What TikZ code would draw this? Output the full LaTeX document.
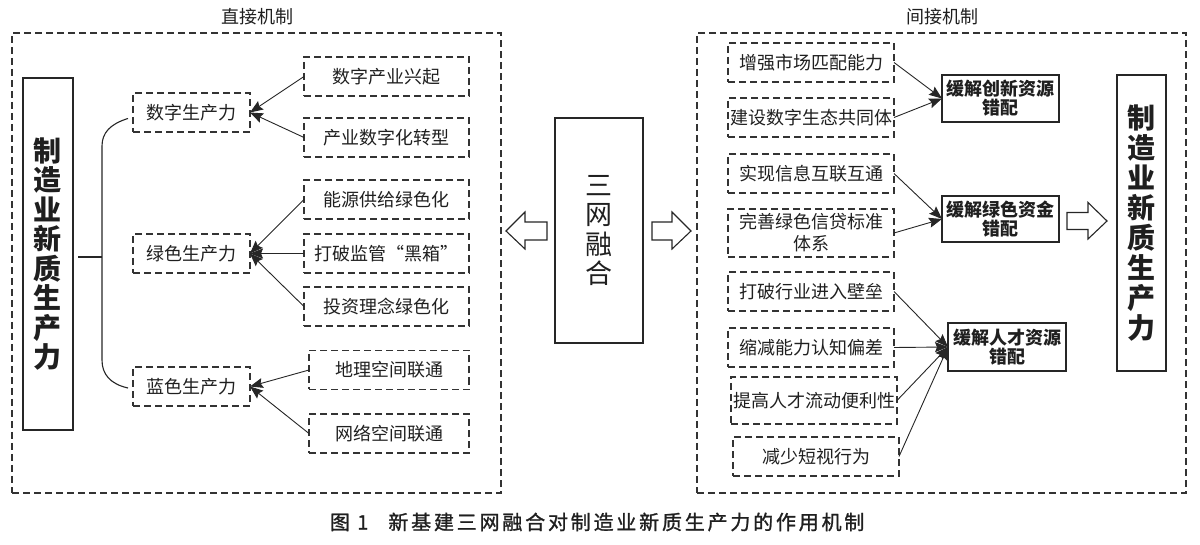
\documentclass[tikz,border=0pt]{standalone}
\usepackage{fontspec}
\setmainfont{Noto Sans CJK SC}
\newfontfamily\capfont[LetterSpace=14,FakeBold=1.2]{Noto Sans CJK SC}
\usetikzlibrary{arrows.meta,calc}
\begin{document}
\begin{tikzpicture}[x=1pt,y=-1pt,
  every node/.style={inner sep=0pt,outer sep=0pt,text=black!88},
  dashline/.style={draw=black!80,line width=1.1pt,dash pattern=on 7pt off 4pt},
  dbox/.style={dashline,minimum height=39pt,align=center,font=\fontsize{18}{22}\selectfont},
  sbox/.style={draw=black!85,line width=1.4pt,minimum width=117pt,minimum height=47pt,align=center,font=\fontsize{18}{19}\selectfont\bfseries},
  bigbox/.style={draw=black!85,line width=1.4pt,align=center},
  frame/.style={dashline,minimum width=489pt,minimum height=460pt},
  ttl/.style={font=\fontsize{18}{18}\selectfont},
  arr/.style={draw=black!85,line width=0.9pt,-{Stealth[length=13pt,width=10pt,inset=2pt]}},
  hollow/.style={draw=black!85,line width=1.1pt,fill=white,line join=miter}]
\useasboundingbox (0,0) rectangle (1200,545);

% frames and titles
\node[frame] (lf) at (256.5,263) {};
\node[frame] (rf) at (941.5,263) {};
\node[ttl] (lt) at (257,17) {直接机制};
\node[ttl] (rt) at (942,17) {间接机制};

% left part
\node[bigbox,minimum width=50pt,minimum height=352pt,font=\fontsize{28}{29.5}\selectfont\bfseries] (L) at (48,254) {制\\造\\业\\新\\质\\生\\产\\力};

\node[dbox,minimum width=117pt] (m1) at (191.5,112.5) {数字生产力};
\node[dbox,minimum width=117pt] (m2) at (191.5,253.5) {绿色生产力};
\node[dbox,minimum width=117pt] (m3) at (191.5,386.5) {蓝色生产力};

\node[dbox,minimum width=165pt] (a1) at (386.5,76.5) {数字产业兴起};
\node[dbox,minimum width=165pt] (a2) at (386.5,137.5) {产业数字化转型};
\node[dbox,minimum width=165pt] (a3) at (386.5,199.5) {能源供给绿色化};
\node[dbox,minimum width=165pt] (a4) at (386.5,253.5) {打破监管“黑箱”};
\node[dbox,minimum width=165pt] (a5) at (386.5,306.5) {投资理念绿色化};
\node[dbox,minimum width=160pt] (a6) at (389,370) {地理空间联通};
\node[dbox,minimum width=160pt] (a7) at (389,433.5) {网络空间联通};

\draw[arr] (a1.west) -- (m1.east);
\draw[arr] (a2.west) -- (m1.east);
\draw[arr] (a3.west) -- (m2.east);
\draw[arr] (a4.west) -- (m2.east);
\draw[arr] (a5.west) -- (m2.east);
\draw[arr] (a6.west) -- (m3.east);
\draw[arr] (a7.west) -- (m3.east);

% bracket
\coordinate (bt) at ($(m1.west)+(-5,6)$);
\coordinate (bb) at ($(m3.west)+(-5,1.5)$);
\draw[black!85,line width=1.1pt] (bt) .. controls (110,124) and (102,133) .. (102,146) -- (102,360) .. controls (102,374) and (110,384) .. (bb);
\coordinate (st) at ($(L.east)+(5,3)$);
\draw[black!85,line width=1.1pt] (st) -- (102,257);

% centre
\node[bigbox,minimum width=88pt,minimum height=225pt,font=\fontsize{27}{29.5}\selectfont] (S) at (599,230.5) {三\\网\\融\\合};
\coordinate (hl) at (506,231);
\coordinate (hr) at (691,231);
\draw[hollow] (hl) -- ++(19,-19) -- ++(0,10) -- ++(22,0) -- ++(0,18) -- ++(-22,0) -- ++(0,9) -- cycle;
\draw[hollow] (hr) -- ++(-19,-19) -- ++(0,10) -- ++(-20,0) -- ++(0,18) -- ++(20,0) -- ++(0,9) -- cycle;

% right part
\node[dbox,minimum width=166pt] (r1) at (811,62.5) {增强市场匹配能力};
\node[dbox,minimum width=166pt] (r2) at (811,117.5) {建设数字生态共同体};
\node[dbox,minimum width=166pt] (r3) at (811,173.5) {实现信息互联互通};
\node[dbox,minimum width=166pt,minimum height=48pt] (r4) at (811,233) {完善绿色信贷标准\\体系};
\node[dbox,minimum width=166pt] (r5) at (811,291.5) {打破行业进入壁垒};
\node[dbox,minimum width=166pt] (r6) at (811,347.5) {缩减能力认知偏差};
\node[dbox,minimum width=166pt,minimum height=47pt] (r7) at (814,400.5) {提高人才流动便利性};
\node[dbox,minimum width=166pt] (r8) at (816,456.5) {减少短视行为};

\node[sbox] (s1) at (1000.5,98.5) {缓解创新资源\\错配};
\node[sbox,minimum height=46pt] (s2) at (1000.5,219) {缓解绿色资金\\错配};
\node[sbox,minimum width=118pt,minimum height=48pt] (s3) at (1007,347) {缓解人才资源\\错配};

\draw[arr] (r1.east) -- (s1.west);
\draw[arr] (r2.east) -- (s1.west);
\draw[arr] (r3.east) -- (s2.west);
\draw[arr] (r4.east) -- (s2.west);
\draw[arr] (r5.east) -- (s3.west);
\draw[arr] (r6.east) -- (s3.west);
\draw[arr] (r7.east) -- (s3.west);
\draw[arr] (r8.east) -- (s3.west);

\node[bigbox,minimum width=49pt,minimum height=296pt,font=\fontsize{28}{30}\selectfont\bfseries] (R) at (1141.5,223) {制\\造\\业\\新\\质\\生\\产\\力};
\coordinate (hg) at (1107,221);
\draw[hollow] (hg) -- ++(-19,-18.5) -- ++(0,10) -- ++(-21,0) -- ++(0,17) -- ++(21,0) -- ++(0,9.5) -- cycle;

% caption
\node[anchor=west,font=\capfont\fontsize{20}{20}\selectfont] (cap) at (330,522) {图 1\hspace{20pt}新基建三网融合对制造业新质生产力的作用机制};
\end{tikzpicture}
\end{document}
